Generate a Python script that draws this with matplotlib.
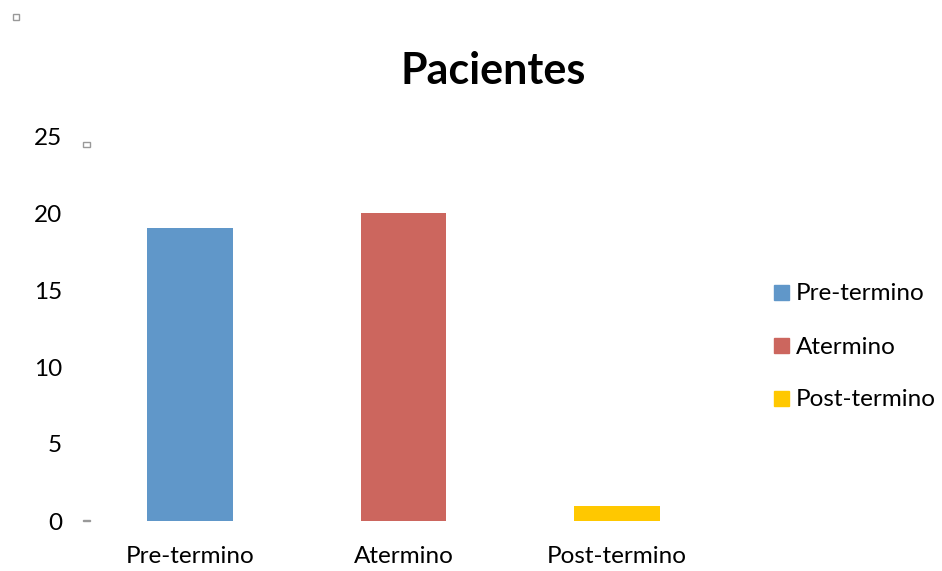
import matplotlib
matplotlib.use("Agg")
import matplotlib.pyplot as plt
from matplotlib.patches import Rectangle

categories = ["Pre-termino", "Atermino", "Post-termino"]
values = [19, 20, 1]
colors = ["#6097C9", "#CC665E", "#FFC800"]
yticks = [0, 5, 10, 15, 20, 25]
title = "Pacientes"

plt.rcParams["font.family"] = ["Lato", "DejaVu Sans"]

W, H = 942, 571
fig = plt.figure(figsize=(W / 100, H / 100), dpi=100)
ax = fig.add_axes([83 / W, 1 - 521 / H, (724 - 83) / W, (521 - 136) / H])

x = list(range(len(categories)))
ax.bar(x, values, width=0.4, color=colors)

ax.set_xlim(-0.5, len(categories) - 0.5)
ax.set_ylim(0, 25)
ax.set_yticks(yticks)
ax.set_yticklabels([str(t) for t in yticks], fontsize=17.5)
ax.set_xticks(x)
ax.set_xticklabels(categories, fontsize=17.5)
ax.tick_params(axis="both", length=0)
ax.tick_params(axis="y", pad=15)
ax.tick_params(axis="x", pad=18)
for s in ax.spines.values():
    s.set_visible(False)

fig.text(493 / W, 1 - 71 / H, title, ha="center", va="center",
         fontsize=31, fontweight="bold")

# legend entries
leg_y = [294, 347, 400]
for cat, col, yy in zip(categories, colors, leg_y):
    fig.patches.append(Rectangle((774 / W, 1 - (yy + 6) / H), 15 / W, 15 / H,
                                 transform=fig.transFigure, color=col))
    fig.text(796 / W, 1 - yy / H, cat, ha="left", va="center", fontsize=17.5)

# small frame handles
fig.patches.append(Rectangle((13 / W, 1 - 20 / H), 6 / W, 6 / H,
                             transform=fig.transFigure, fill=False,
                             edgecolor="#999999", lw=1))
fig.patches.append(Rectangle((83 / W, 1 - 147 / H), 7 / W, 5 / H,
                             transform=fig.transFigure, fill=False,
                             edgecolor="#999999", lw=1))
fig.patches.append(Rectangle((83 / W, 1 - 521 / H), 7 / W, 1.5 / H,
                             transform=fig.transFigure, color="#999999"))

fig.savefig("out.png", dpi=100)
